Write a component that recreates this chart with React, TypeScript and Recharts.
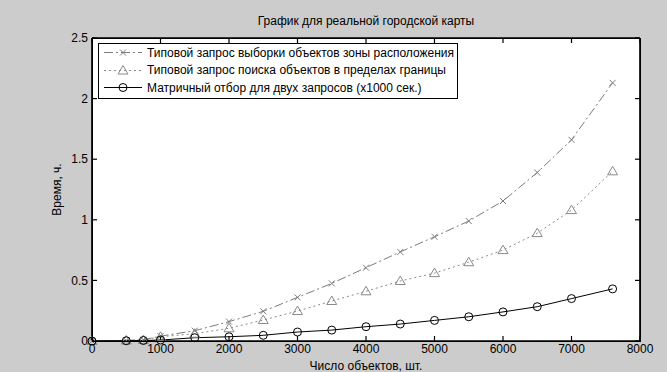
import { LineChart, Line, XAxis, YAxis, CartesianGrid, Legend, Label } from "recharts";

// number of objects on the map
const objectCounts = [0, 500, 750, 1000, 1500, 2000, 2500, 3000, 3500, 4000, 4500, 5000, 5500, 6000, 6500, 7000, 7600];
// query times, hours
const zoneSelect = [0, 0.005, 0.01, 0.04, 0.085, 0.16, 0.245, 0.36, 0.475, 0.605, 0.735, 0.86, 0.99, 1.155, 1.39, 1.66, 2.13];
const boundarySearch = [0, 0.004, 0.008, 0.035, 0.06, 0.105, 0.173, 0.247, 0.33, 0.41, 0.495, 0.56, 0.65, 0.75, 0.89, 1.08, 1.4];
const matrixSelect = [0, 0.002, 0.004, 0.008, 0.027, 0.035, 0.047, 0.074, 0.09, 0.118, 0.14, 0.17, 0.2, 0.24, 0.283, 0.35, 0.43];

const xTicks = [0, 1000, 2000, 3000, 4000, 5000, 6000, 7000, 8000];
const yTicks = [0, 0.5, 1, 1.5, 2, 2.5];

const seriesOrder = ["zone", "bound", "matrix"];
const seriesNames: Record<string, string> = {
  zone: "Типовой запрос выборки объектов зоны расположения",
  bound: "Типовой запрос поиска объектов в пределах границы",
  matrix: "Матричный отбор для двух запросов (x1000 сек.)",
};

const data = objectCounts.map((n, i) => ({
  n,
  zone: zoneSelect[i],
  bound: boundarySearch[i],
  matrix: matrixSelect[i],
}));

const FONT = "'Liberation Sans', Arial, sans-serif";
const GRAY = "#7c7c7c";
const GRAY2 = "#8a8a8a";

const CrossMark = ({ cx, cy, color }: any) => (
  <g stroke={color} strokeWidth={1}>
    <line x1={cx - 3} y1={cy - 3} x2={cx + 3} y2={cy + 3} />
    <line x1={cx - 3} y1={cy + 3} x2={cx + 3} y2={cy - 3} />
  </g>
);

const TriangleMark = ({ cx, cy, color }: any) => (
  <polygon
    points={`${cx},${cy - 5} ${cx - 5},${cy + 3.5} ${cx + 5},${cy + 3.5}`}
    fill="none"
    stroke={color}
    strokeWidth={1}
  />
);

const CircleMark = ({ cx, cy, color }: any) => (
  <circle cx={cx} cy={cy} r={4} fill="none" stroke={color} strokeWidth={1} />
);

const markers: Record<string, any> = { zone: CrossMark, bound: TriangleMark, matrix: CircleMark };

const dashes: Record<string, string | undefined> = {
  zone: "9 3 2 3",
  bound: "2 3",
  matrix: undefined,
};

function renderDot(key: string, color: string) {
  const Mark = markers[key];
  return (p: any) => <Mark key={`${key}-${p.index}`} cx={p.cx} cy={p.cy} color={color} />;
}

function LegendBox({ payload }: any) {
  const entries = [...(payload || [])].sort(
    (a: any, b: any) => seriesOrder.indexOf(a.dataKey) - seriesOrder.indexOf(b.dataKey)
  );
  return (
    <div
      style={{
        border: "1px solid #000",
        background: "#fff",
        width: 358,
        padding: "0 0 1px 0",
        fontFamily: FONT,
        fontSize: 12,
        color: "#000",
        textAlign: "left",
      }}
    >
      {entries.map((entry: any) => {
        const key = entry.dataKey as string;
        const Mark = markers[key];
        return (
          <div key={key} style={{ display: "flex", alignItems: "center", height: 17.5 }}>
            <svg width={48} height={17} style={{ flex: "none" }}>
              <line x1={5} y1={8.5} x2={43} y2={8.5} stroke={entry.color} strokeDasharray={dashes[key]} />
              <Mark cx={24} cy={8.5} color={entry.color} />
            </svg>
            <span style={{ whiteSpace: "nowrap" }}>{entry.value}</span>
          </div>
        );
      })}
    </div>
  );
}

// frame of the axes box: one line on each edge of the plot area
const frameRows = ({ offset }: any) => [offset.top, offset.top + offset.height];
const frameCols = ({ offset }: any) => [offset.left, offset.left + offset.width];

const edge = { stroke: "#000", strokeWidth: 1.2 };

export default function App() {
  return (
    <div
      style={{
        position: "absolute",
        left: 0,
        top: 0,
        width: 667,
        height: 372,
        background: "#cccccc",
        fontFamily: FONT,
      }}
    >
      <div
        style={{
          position: "absolute",
          top: 14,
          left: 92,
          width: 548,
          textAlign: "center",
          fontSize: 12,
          color: "#000",
        }}
      >
        График для реальной городской карты
      </div>
      <LineChart
        width={667}
        height={372}
        data={data}
        margin={{ top: 37, right: 26, bottom: 0, left: 0 }}
        style={{ fontFamily: FONT }}
      >
        <CartesianGrid
          fill="#ffffff"
          stroke="#000"
          strokeWidth={1.2}
          horizontalCoordinatesGenerator={frameRows}
          verticalCoordinatesGenerator={frameCols}
        />
        <XAxis
          dataKey="n"
          type="number"
          domain={[0, 8000]}
          ticks={xTicks}
          height={31}
          tickSize={-5}
          tickMargin={8}
          axisLine={edge}
          tickLine={edge}
          tick={{ fill: "#000", fontSize: 12 }}
        >
          <Label value="Число объектов, шт." position="insideBottom" offset={2} fill="#000" fontSize={12} />
        </XAxis>
        <XAxis
          xAxisId="top"
          orientation="top"
          dataKey="n"
          type="number"
          domain={[0, 8000]}
          ticks={xTicks}
          height={1}
          tickSize={-5}
          axisLine={edge}
          tickLine={edge}
          tickFormatter={() => ""}
        />
        <YAxis
          type="number"
          domain={[0, 2.5]}
          ticks={yTicks}
          width={92}
          tickSize={-5}
          tickMargin={9}
          axisLine={edge}
          tickLine={edge}
          tick={{ fill: "#000", fontSize: 12 }}
        >
          <Label
            content={({ viewBox }: any) => (
              <text
                x={57}
                y={viewBox.y + viewBox.height / 2}
                transform={`rotate(-90, 57, ${viewBox.y + viewBox.height / 2})`}
                textAnchor="middle"
                dominantBaseline="central"
                fontSize={12}
                fill="#000"
              >
                Время, ч.
              </text>
            )}
          />
        </YAxis>
        <YAxis
          yAxisId="right"
          orientation="right"
          type="number"
          domain={[0, 2.5]}
          ticks={yTicks}
          width={1}
          tickSize={-5}
          axisLine={edge}
          tickLine={edge}
          tickFormatter={() => ""}
        />
        <Legend
          layout="horizontal"
          verticalAlign="middle"
          align="center"
          wrapperStyle={{ left: 98, top: 43, width: "auto" }}
          content={<LegendBox />}
        />
        <Line
          dataKey="zone"
          name={seriesNames.zone}
          stroke={GRAY}
          strokeWidth={1}
          strokeDasharray={dashes.zone}
          dot={renderDot("zone", GRAY)}
          activeDot={false}
          isAnimationActive={false}
        />
        <Line
          dataKey="bound"
          name={seriesNames.bound}
          stroke={GRAY2}
          strokeWidth={1}
          strokeDasharray={dashes.bound}
          dot={renderDot("bound", GRAY2)}
          activeDot={false}
          isAnimationActive={false}
        />
        {/* same 0..2.5 range as the left axis */}
        <Line
          yAxisId="right"
          dataKey="matrix"
          name={seriesNames.matrix}
          stroke="#000"
          strokeWidth={1}
          dot={renderDot("matrix", "#000")}
          activeDot={false}
          isAnimationActive={false}
        />
      </LineChart>
      {/* axes box outline */}
      <div
        style={{
          position: "absolute",
          left: 92,
          top: 38,
          width: 549,
          height: 304,
          boxSizing: "border-box",
          border: "1px solid #000",
          pointerEvents: "none",
        }}
      />
    </div>
  );
}
